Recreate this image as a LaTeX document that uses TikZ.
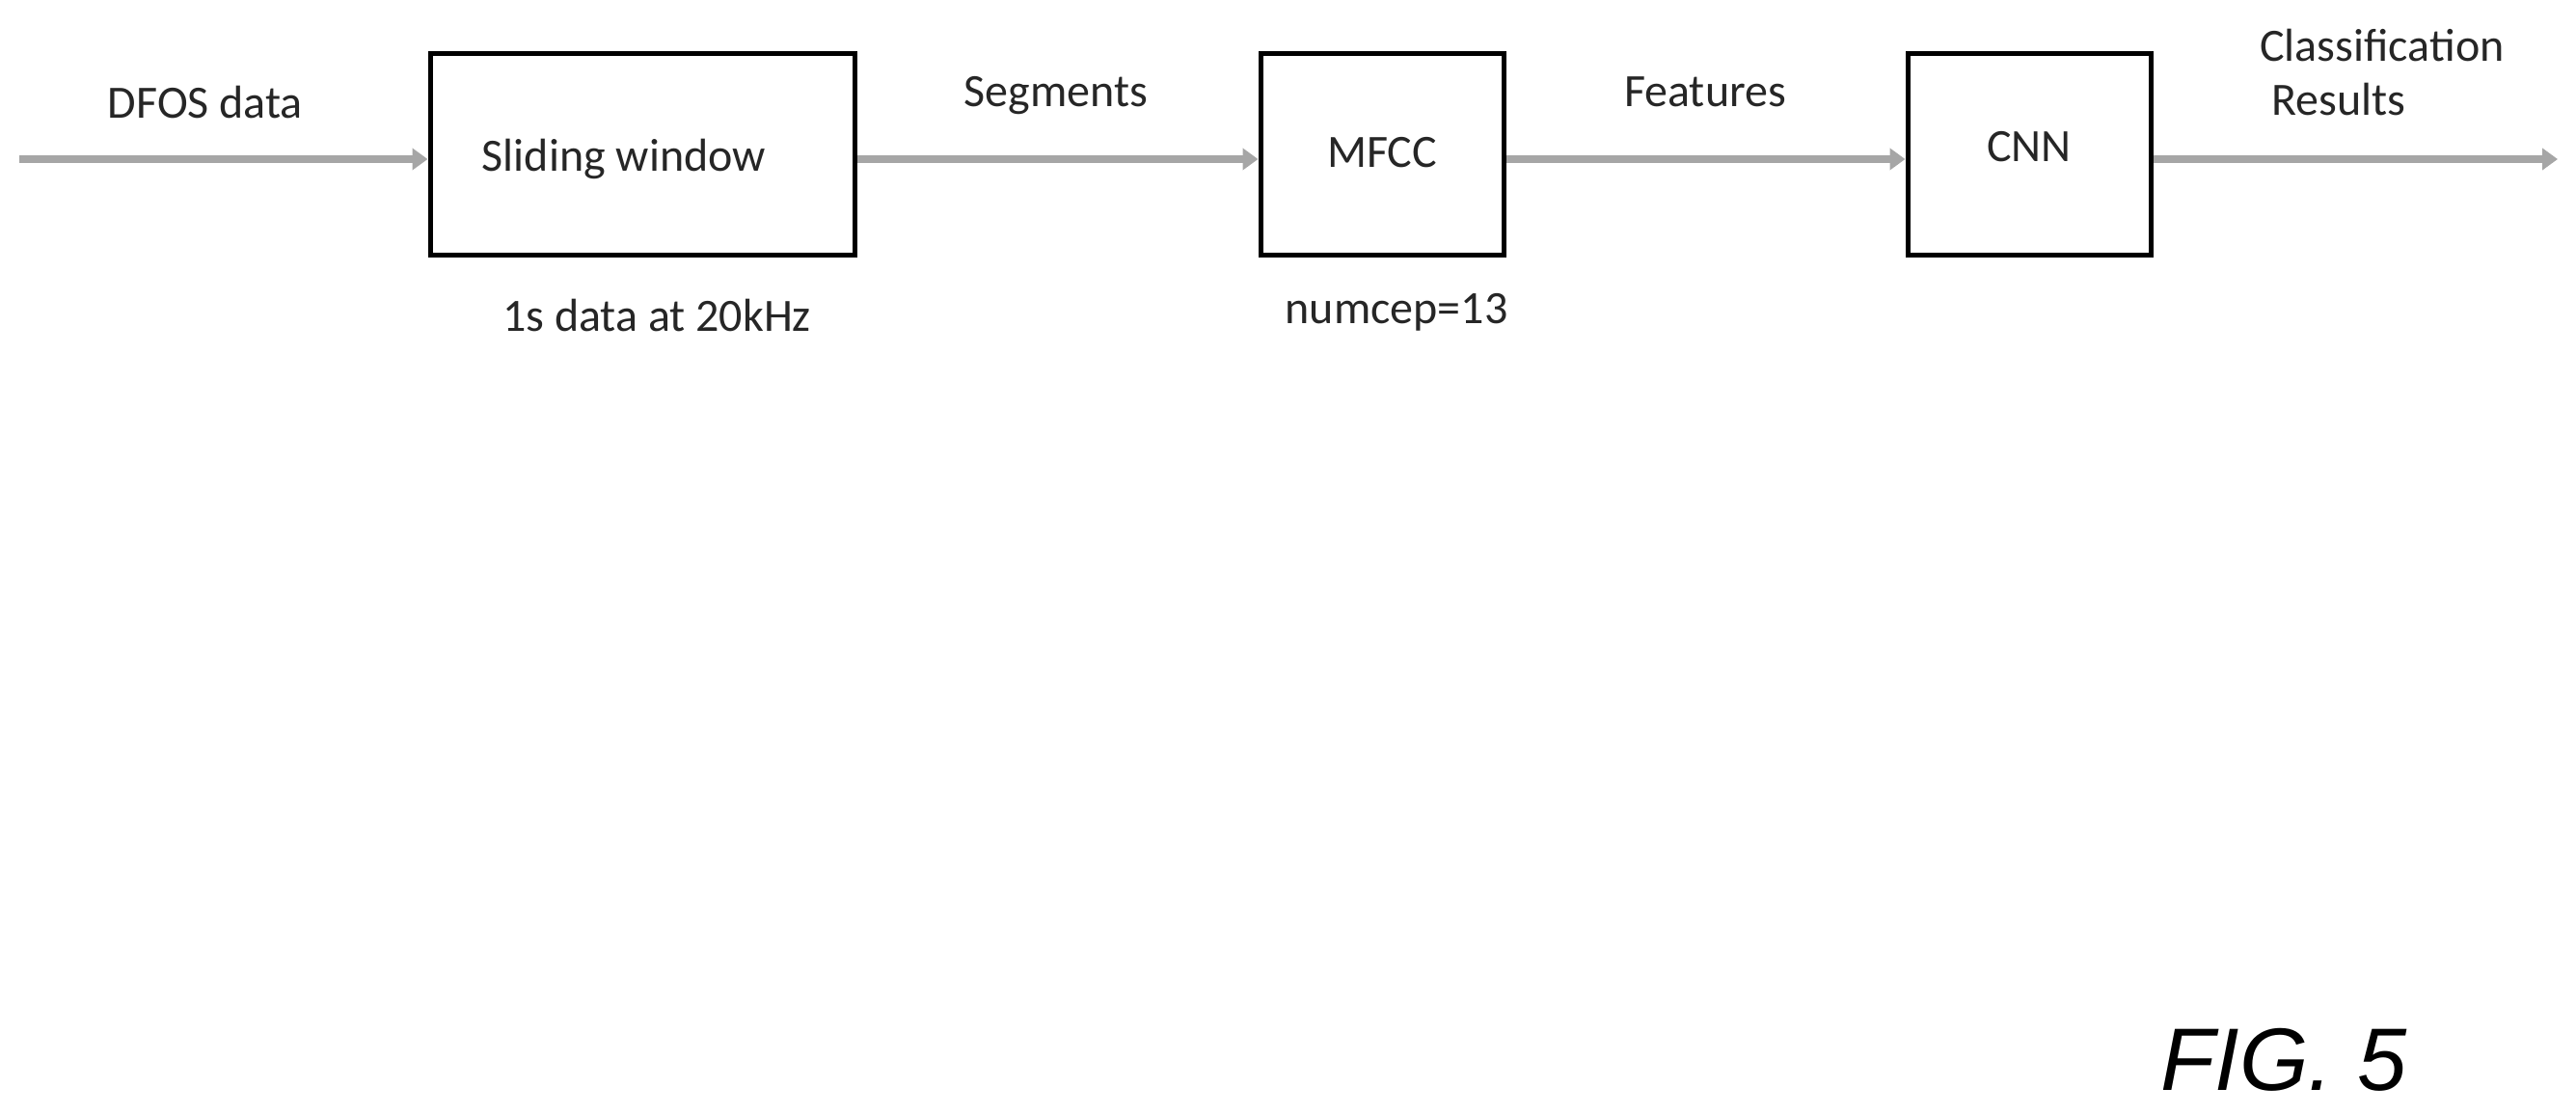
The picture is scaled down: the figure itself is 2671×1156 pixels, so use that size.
\documentclass[tikz,border=0pt]{standalone}
\usepackage{fontspec}
\setmainfont{Carlito}
\newfontfamily\figfont{Liberation Sans}
\usetikzlibrary{arrows.meta}
\begin{document}
\begin{tikzpicture}[x=1pt,y=-1pt,
  blk/.style={draw=black,line width=5pt,minimum height=208pt,inner sep=0pt},
  flow/.style={draw=gray!70,line width=8pt,-{Triangle[length=16pt,width=22pt]}},
  lbl/.style={font=\fontsize{48}{56}\selectfont,text=black!85,inner sep=0pt}]
\useasboundingbox (0,0) rectangle (2671,1156);
\node[blk,minimum width=440pt] (sw) at (666,160) {};
\node[blk,minimum width=252pt] (mf) at (1433,160) {};
\node[blk,minimum width=252pt] (cn) at (2104,160) {};
\coordinate (in) at (20,165);
\coordinate (out) at (2652,165);
\draw[flow] (in) -- (sw.west|-in);
\draw[flow] (sw.east|-in) -- (mf.west|-in);
\draw[flow] (mf.east|-in) -- (cn.west|-in);
\draw[flow] (cn.east|-in) -- (out);
\node[lbl] (t1) at (213,106) {DFOS data};
\node[lbl] (t2) at (647,165) {Sliding window};
\node[lbl] (t3) at (1095,99) {Segments};
\node[lbl] (t4) at (1433,158) {MFCC};
\node[lbl] (t5) at (1768,95) {Features};
\node[lbl] (t6) at (2104,152) {CNN};
\node[lbl,align=center] (t7) at (2470,75) {Classification\\\hspace*{-90pt}Results};
\node[lbl] (t8) at (681,327) {1s data at 20kHz};
\node[lbl] (t9) at (1448,324) {numcep=13};
\node[inner sep=0pt,font=\figfont\fontsize{92}{100}\selectfont\itshape] (fig) at (2368,1099) {FIG. 5};
\end{tikzpicture}
\end{document}
